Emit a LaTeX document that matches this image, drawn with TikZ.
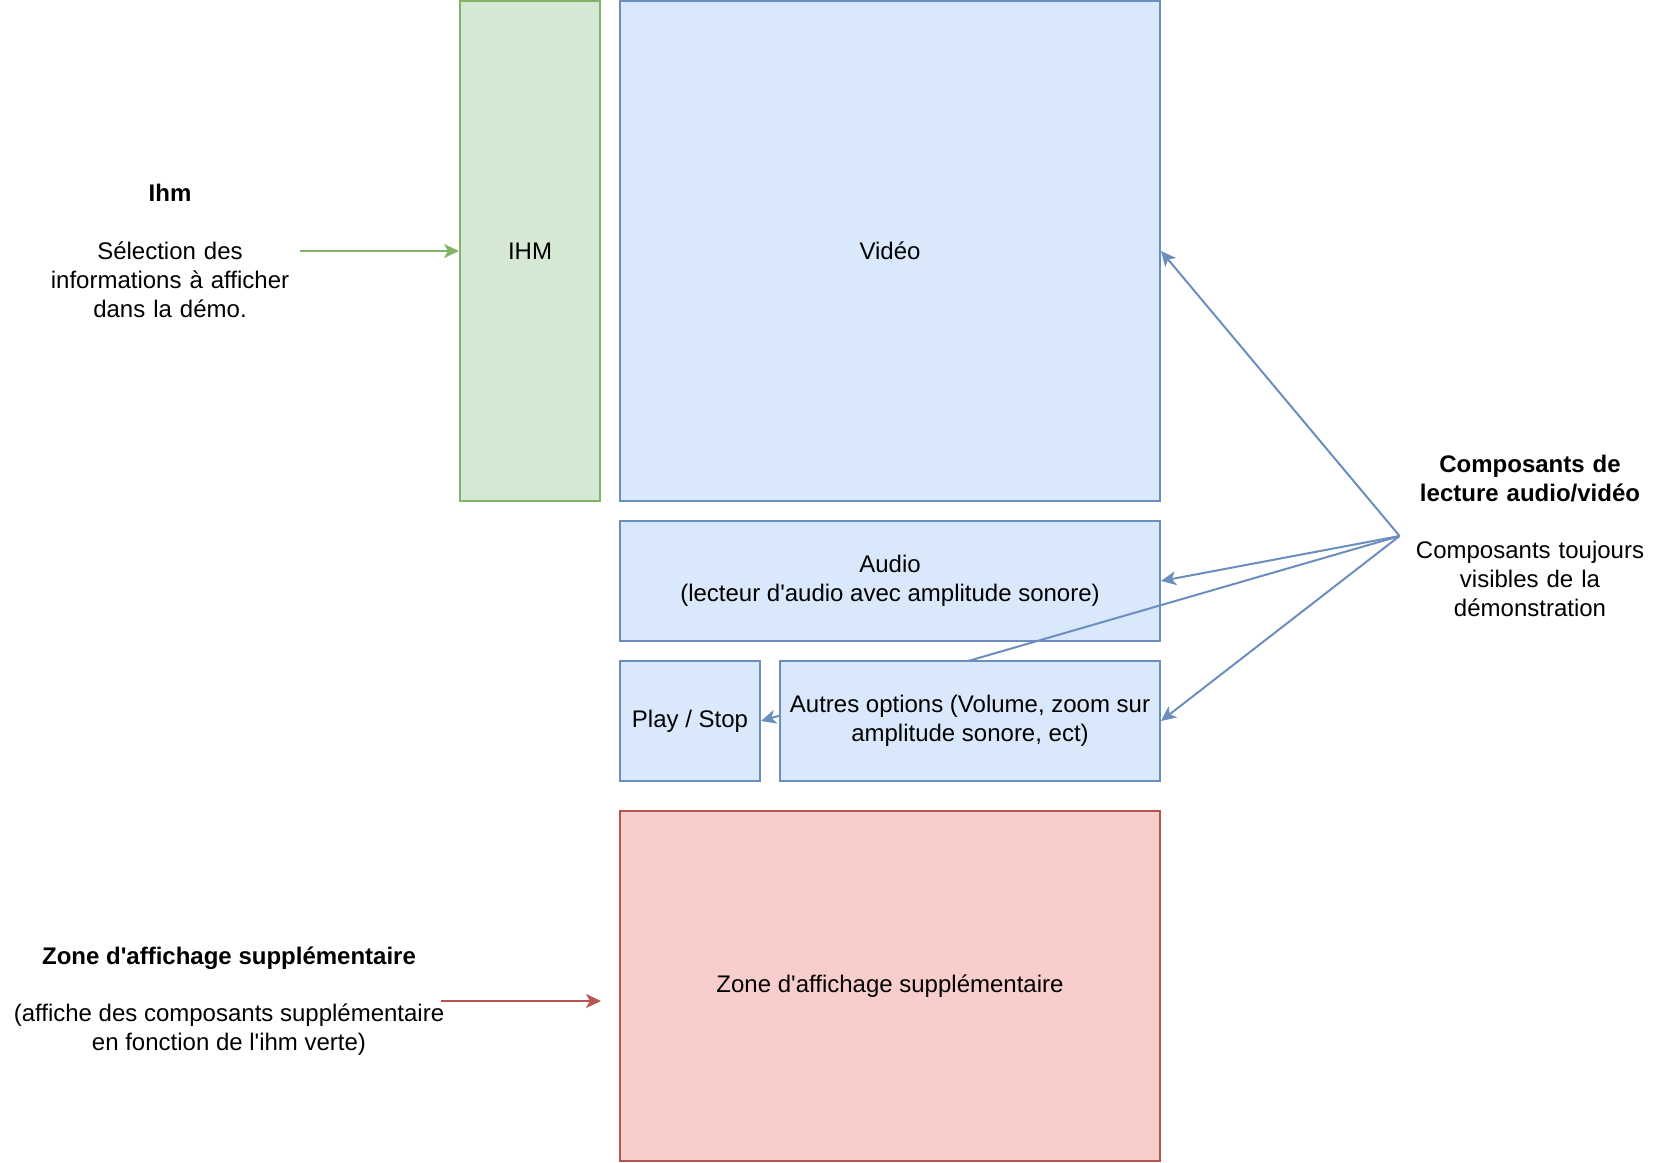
\documentclass[tikz,border=0pt]{standalone}
\usepackage{fontspec}
\setmainfont{Liberation Sans}
\usetikzlibrary{backgrounds,arrows.meta}

\definecolor{bluefill}{HTML}{DAE8FC}
\definecolor{bluedraw}{HTML}{6C8EBF}
\definecolor{greenfill}{HTML}{D5E8D4}
\definecolor{greendraw}{HTML}{82B366}
\definecolor{redfill}{HTML}{F8CECC}
\definecolor{reddraw}{HTML}{B85450}

\begin{document}
\begin{tikzpicture}[x=0.5pt, y=-0.5pt, font=\fontsize{12pt}{14.4pt}\selectfont,
    block/.style={rectangle, draw, line width=1pt, inner sep=0pt, align=center},
    bluebox/.style={block, draw=bluedraw, fill=bluefill},
    greenbox/.style={block, draw=greendraw, fill=greenfill},
    redbox/.style={block, draw=reddraw, fill=redfill},
    label/.style={inner sep=0pt, align=center},
    link/.style={line width=1pt, -{Stealth[length=7.5pt, width=7pt, inset=2pt]}}]
      \useasboundingbox (0,0) rectangle (1664,1162);
      % labels
      \node (ihmtxt) [label, text width=130pt] at (170,251)
        {\textbf{Ihm}\\[14.4pt]Sélection des\\informations à afficher\\dans la démo.};
      \node (lecture) [label, text width=130pt] at (1530,536)
        {\textbf{Composants de}\\\textbf{lecture audio/vidéo}\\[14.4pt]Composants toujours\\visibles de la\\démonstration};
      \node (zonetxt) [label] at (229,1001)
        {\textbf{Zone d\textquotesingle affichage supplémentaire}\\[14.4pt](affiche des composants supplémentaire\\en fonction de l\textquotesingle ihm verte)};
      \coordinate (zonesrc) at (441,1001);
      \coordinate (zonedst) at (601,1001);
      % boxes
      \node (ihm) [greenbox, minimum width=70pt, minimum height=250pt] at (530,251) {IHM};
      \node (video) [bluebox, minimum width=270pt, minimum height=250pt] at (890,251) {Vidéo};
      \node (audio) [bluebox, minimum width=270pt, minimum height=60pt] at (890,581)
        {Audio\\(lecteur d\textquotesingle audio avec amplitude sonore)};
      \node (play) [bluebox, minimum width=70pt, minimum height=60pt] at (690,721) {Play / Stop};
      \draw [link, draw=bluedraw, fill=bluedraw] (lecture.west) -- (play.east);
      \node (autres) [bluebox, minimum width=190pt, minimum height=60pt] at (970,721)
        {Autres options (Volume, zoom sur\\amplitude sonore, ect)};
      \node (zone) [redbox, minimum width=270pt, minimum height=175pt] at (890,986)
        {Zone d\textquotesingle affichage supplémentaire};
      % connectors
      \draw [link, draw=greendraw, fill=greendraw] (ihmtxt.east) -- (ihm.west);
      \draw [link, draw=reddraw, fill=reddraw] (zonesrc) -- (zonedst);
      \draw [link, draw=bluedraw, fill=bluedraw] (lecture.west) -- (video.east);
      \draw [link, draw=bluedraw, fill=bluedraw] (lecture.west) -- (audio.east);
      \draw [link, draw=bluedraw, fill=bluedraw] (lecture.west) -- (autres.east);
\end{tikzpicture}
\end{document}
